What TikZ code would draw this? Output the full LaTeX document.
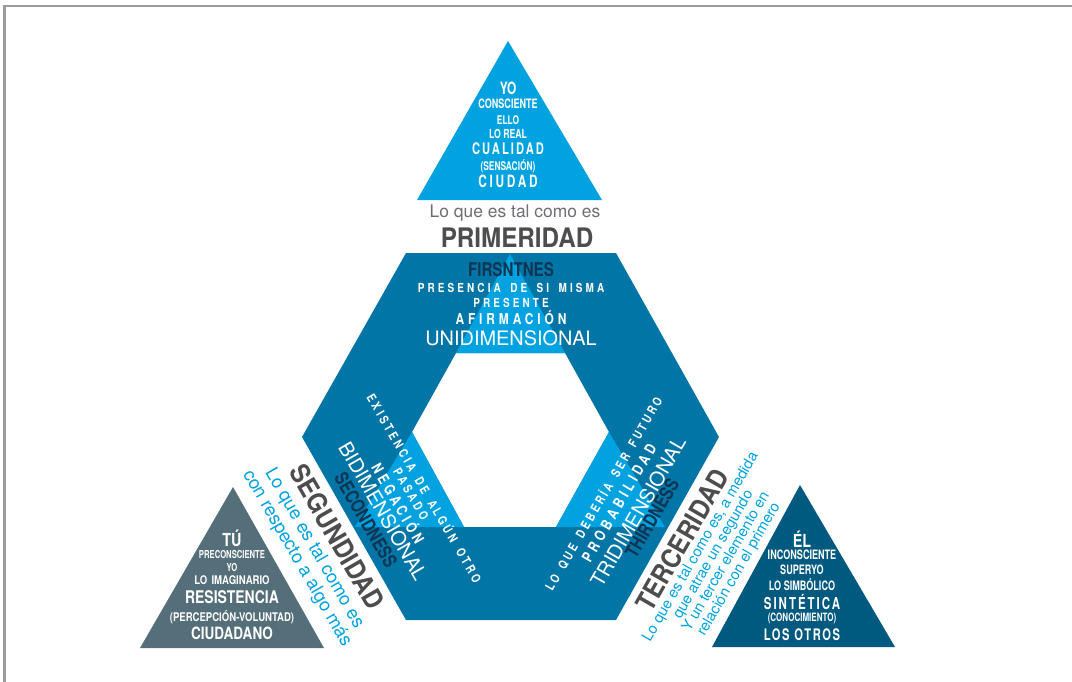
\documentclass[tikz,border=0pt]{standalone}
\usepackage{fontspec}
\setmainfont{TeX Gyre Heros}
\newfontfamily\hv{TeX Gyre Heros}
\newfontfamily\hvn{TeX Gyre Heros}[FakeStretch=0.8]
\newfontfamily\hvw{TeX Gyre Heros}[FakeStretch=0.8,WordSpace=1.6]
\newfontfamily\hvc{TeX Gyre Heros}[FakeStretch=0.7]
\newfontfamily\hvt{TeX Gyre Heros}[FakeStretch=0.9]
\newcommand{\fsz}[1]{\fontsize{#1}{#1}\selectfont}
\definecolor{cyanA}{HTML}{00A3E0}
\definecolor{hexA}{HTML}{0075A6}
\definecolor{slateA}{HTML}{546E7A}
\definecolor{deepA}{HTML}{00597F}
\definecolor{navyA}{HTML}{0F3553}
\definecolor{grayA}{HTML}{4D4D4F}
\definecolor{grayB}{HTML}{6D6E71}
\definecolor{frameA}{HTML}{9B9B9B}

\begin{document}
\begin{tikzpicture}[x=1bp,y=1bp,
    lbl/.style={text=white,inner sep=0pt,font=\hvn\bfseries\fsz{#1}},
    sml/.style={text=white,inner sep=0pt,font=\hvc\bfseries\fsz{#1}},
    spc/.style 2 args={text=white,inner sep=0pt,font=\hvw\bfseries\fsz{#1}\addfontfeatures{LetterSpace=#2}},
    spcc/.style 2 args={text=white,inner sep=0pt,font=\hvc\bfseries\fsz{#1}\addfontfeatures{LetterSpace=#2}},
    dim/.style={text=white,inner sep=0pt,font=\hv\fsz{20}},
    eng/.style={text=navyA,inner sep=0pt,font=\hvn\bfseries\fsz{19}},
    ttl/.style={text=grayA,inner sep=0pt,font=\hvt\bfseries\fsz{#1}},
    blu/.style 2 args={text=cyanA,inner sep=0pt,align=center,font=\hv\fontsize{#1}{#2}\selectfont}]
        \useasboundingbox (0,0) rectangle (1072,-682);
        \draw[frameA,line width=2.5bp] (1072,-6) -- (4.5,-6) -- (4.5,-682);
        % hexagon band and the three light corners
        \fill[hexA,even odd rule] (406,-253) -- (616,-253) -- (719,-437) -- (616,-620) -- (406,-620) -- (302,-437) -- cycle
              (456,-353) -- (565,-353) -- (609,-432) -- (556,-527) -- (464,-527) -- (412,-432) -- cycle;
        \fill[cyanA] (510,-254) -- (565,-353) -- (456,-353) -- cycle;
        \fill[cyanA] (412,-432) -- (464,-527) -- (355,-527) -- cycle;
        \fill[cyanA] (609,-432) -- (665,-527) -- (556,-527) -- cycle;
        % outer triangles
        \fill[cyanA] (417,-200) -- (508,-41) -- (602,-200) -- cycle;
        \fill[slateA] (140,-648) -- (233,-487) -- (324,-648) -- cycle;
        \fill[deepA] (712,-647) -- (800,-485) -- (895,-647) -- cycle;

        \node[sml=17] (yo) at (508,-88) {YO};
        \node[sml=13] (consc) at (508,-104) {CONSCIENTE};
        \node[sml=12] (ello) at (508,-120) {ELLO};
        \node[sml=12.5] (real) at (508,-134) {LO REAL};
        \node[spcc={16}{13}] (cual) at (508,-149) {CUALIDAD};
        \node[sml=12] (sens) at (508,-166) {(SENSACIÓN)};
        \node[spcc={17}{16}] (ciud) at (508,-181) {CIUDAD};

        \node[text=grayB,inner sep=0pt,font=\hv\fsz{17.5}] (tal1) at (515,-213) {Lo que es tal como es};
        \node[ttl=27] (prim) at (517,-238) {PRIMERIDAD};

        \node[eng] (first) at (511,-270) {FIRSNTNES};
        \node[spc={12.5}{25}] (pres) at (511,-288) {PRESENCIA DE SI MISMA};
        \node[spc={12.5}{25}] (prste) at (511,-303) {PRESENTE};
        \node[spc={15}{26}] (afirm) at (511,-318) {AFIRMACIÓN};
        \node[dim] (unid) at (511,-338) {UNIDIMENSIONAL};

        \node[spc={12.5}{24},rotate=-60] (exis) at (425,-488) {EXISTENCIA DE ALGÚN OTRO};
        \node[spc={12.5}{25},rotate=-60] (pas) at (411,-494) {PASADO};
        \node[spc={15}{24},rotate=-60] (neg) at (399,-503) {NEGACIÓN};
        \node[dim,rotate=-60] (bidi) at (383,-511) {BIDIMENSIONAL};
        \node[eng,rotate=-60] (second) at (366,-520) {SECONDNESS};
        \node[ttl=27,rotate=-60] (segu) at (337,-537) {SEGUNDIDAD};
        \node[blu={18.5}{20},rotate=-60] (tal2) at (305.5,-553.5) {Lo que es tal como es\\con respecto a algo más};

        \node[spc={12.5}{22},rotate=60] (fut) at (603,-493.5) {LO QUE DEBERÍA SER FUTURO};
        \node[spc={15}{26},rotate=60] (prob) at (619,-503) {PROBABILIDAD};
        \node[dim,rotate=60] (tridi) at (638,-512) {TRIDIMENSIONAL};
        \node[eng,rotate=60] (third) at (652,-518) {THIRDNESS};
        \node[ttl=27,rotate=60] (terc) at (682,-540) {TERCERIDAD};
        \node[blu={15}{14.8},rotate=60] (tal3) at (720,-558.5) {Lo que es tal como es, a medida\\que atrae un segundo\\Y un tercer elemento en\\relación con el primero};

        \node[lbl=18] (tu) at (232,-538) {TÚ};
        \node[sml=11] (precon) at (232,-555) {PRECONSCIENTE};
        \node[sml=11] (yo2) at (232,-568) {YO};
        \node[lbl=12] (imag) at (232,-580) {LO IMAGINARIO};
        \node[lbl=17.5] (resis) at (232,-597) {RESISTENCIA};
        \node[lbl=12] (perc) at (232,-617) {(PERCEPCIÓN-VOLUNTAD)};
        \node[lbl=17] (ciudno) at (232,-633) {CIUDADANO};

        \node[lbl=18] (el) at (802,-539) {ÉL};
        \node[sml=13] (incon) at (802,-555) {INCONSCIENTE};
        \node[sml=13] (super) at (802,-570) {SUPERYO};
        \node[sml=13] (simb) at (802,-585) {LO SIMBÓLICO};
        \node[spcc={16.5}{12}] (sint) at (802,-602) {SINTÉTICA};
        \node[sml=11.5] (conoc) at (802,-618) {(CONOCIMIENTO)};
        \node[spcc={16}{10}] (otros) at (802,-635) {LOS OTROS};
\end{tikzpicture}
\end{document}
